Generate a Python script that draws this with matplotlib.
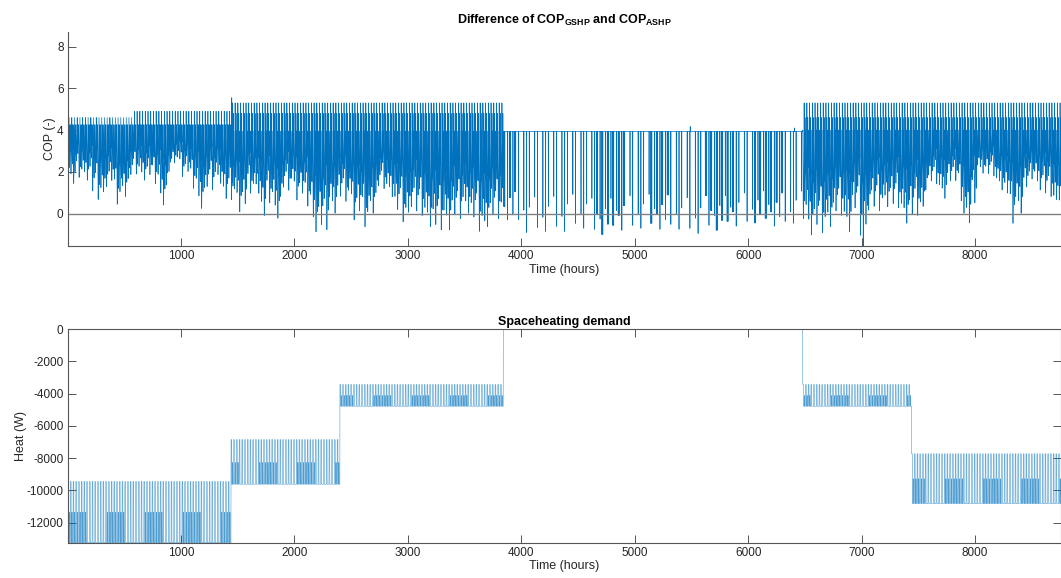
import numpy as np
import matplotlib
matplotlib.use("Agg")
import matplotlib.pyplot as plt

plt.rcParams['font.family'] = ['Liberation Sans', 'DejaVu Sans']
plt.rcParams['mathtext.fontset'] = 'custom'
plt.rcParams['mathtext.bf'] = 'Liberation Sans:bold'
plt.rcParams['mathtext.rm'] = 'Liberation Sans'
plt.rcParams['axes.unicode_minus'] = False

# ---- COP difference (top) ----
# regime boundaries (hours) and levels
cop_edges = [0, 570, 1440, 3840, 6480, 8760]
cop_core_top = [4.25, 4.25, 3.95, 3.93, 4.0]
cop_upper = [4.25, 4.25, 4.8, 3.93, 4.6]
cop_peak = [4.6, 4.9, 5.3, 3.93, 5.3]
summer_seg = 3

# deepest values of the trace, read along the lower edge
lo_hours = [0, 35, 108, 196, 240, 308, 373, 446, 519, 564, 608, 696, 769, 843, 916,
            975, 1048, 1122, 1195, 1268, 1327, 1401, 1474, 1547, 1621, 1680, 1730,
            1797, 1856, 1929, 1988, 2046, 2120, 2179, 2267, 2341, 2429, 2488, 2546,
            2620, 2693, 2767, 2840, 2914, 2987, 3046, 3104, 3178, 3266, 3340, 3428,
            3516, 3589, 3648, 3722, 3780,
            3840, 3960, 4100, 4300, 4500, 4700, 4900, 5100, 5300, 5500, 5700, 5900,
            6100, 6300,
            6490, 6578, 6652, 6725, 6799, 6872, 6946, 7013, 7078, 7152, 7225, 7313,
            7372, 7431, 7519, 7577, 7636, 7710, 7783, 7842, 7901, 7945, 7989, 8062,
            8136, 8209, 8283, 8336, 8385, 8459, 8518, 8576, 8650, 8709, 8753]
lo_vals = [1.7, 1.13, 1.6, 1.6, 0.73, 0.49, 1.29, 0.25, 0.82, 1.6, 1.77, 1.6, 1.29,
           0.41, 1.77, 2.33, 1.77, 1.05, 0.25, 0.97, 1.45, 0.33, 0.49, 0.09, 0.82,
           0.97, -0.54, 0.33, -0.22, 0.97, 1.13, 0.65, 0.17, -0.87, -1.02, 0.02,
           0.49, 0.41, -0.3, -0.87, 0.02, 1.05, 0.81, -0.22, -0.62, 0.33, -0.3,
           -0.62, -1.02, -0.78, -0.46, 0.02, -0.62, -1.1, -0.62, -0.46,
           -0.3, -0.5, -0.9, -0.85, -0.7, -1.0, -0.8, -0.7, -0.75, -0.95, -0.8,
           -0.6, -0.45, -0.6,
           -0.46, -1.02, -1.18, -0.62, -0.3, -0.87, -0.14, -1.3, 0.17, -0.06, 0.33,
           0.09, -0.38, -0.46, -0.3, 1.13, 1.29, 0.73, 1.29, 1.45, 0.02, -0.94,
           0.33, 1.93, 1.69, 1.13, 0.65, -0.7, 0.02, 0.97, 1.53, 1.13, 0.65, 0.09,
           0.65]

# hourly depth profile of one day (0 = top of band, 1 = day's low)
day_depth = [0, 0.3, 0.55, 0.7, 0.85, 1.0, 0.9, 0.75, 0.6, 0.45, 0.3, 0.15,
             0, 0.2, 0.4, 0.6, 0.7, 0.8, 0.65, 0.5, 0, 0.35, 0.5, 0.2]
week_depth = [1.0, 0.75, 0.9, 0.65, 0.95, 0.8, 0.85]
peak_hour, upper_hour = 12, 20
summer_busy = [(3840, 3960), (4630, 4900), (5100, 5300), (5600, 5880), (6040, 6290)]
summer_week_drop = [1, 1, 0, 1, 1, 0, 1]
cop_extra_hours = [0, 1446, 5488, 6408, 7013]
cop_extra_vals = [8.68, 5.55, 4.17, 4.1, -1.55]

# ---- space heating demand (bottom) ----
heat_edges = [0, 1440, 2400, 3840, 6480, 7440, 8760]
heat_base = [-13250, -9620, -4780, 0, -4780, -10820]
heat_top = [-9450, -6850, -3430, 0, -3430, -7730]
heat_mid = [-11360, -8270, -4110, 0, -4110, -9280]
day_sched = ['T'] * 7 + ['B'] * 6 + ['M'] * 3 + ['B'] * 8
fortnight_mid = [1, 1, 1, 1, 1, 1, 1, 0, 0, 0, 0, 0, 0, 0]

lo_h = np.array(lo_hours)
lo_v = np.array(lo_vals)

cop = np.empty(8760)
for d in range(365):
    h0 = d * 24
    s = np.searchsorted(cop_edges, h0, side='right') - 1
    low = lo_v[np.argmin(np.abs(lo_h - (h0 + 12)))]
    f = week_depth[d % 7]
    top = cop_core_top[s]
    if s == summer_seg:
        day = np.full(24, top)
        busy = any(a <= h0 < b for a, b in summer_busy)
        drops = ([5, 13] if d % 2 == 0 else [13]) if busy else \
            ([13] if summer_week_drop[d % 7] else [])
        for hh in drops:
            day[hh] = top - f * (top - low)
    else:
        day = top - np.array(day_depth) * f * (top - low)
        day[peak_hour] = cop_peak[s]
        day[upper_hour] = cop_upper[s]
    cop[h0:h0 + 24] = day
cop[cop_extra_hours] = cop_extra_vals

heat = np.empty(8760)
for d in range(365):
    h0 = d * 24
    s = np.searchsorted(heat_edges, h0, side='right') - 1
    mid_day = fortnight_mid[d % 14]
    for hh, code in enumerate(day_sched):
        if code == 'T':
            heat[h0 + hh] = heat_top[s]
        elif code == 'M' and mid_day:
            heat[h0 + hh] = heat_mid[s]
        else:
            heat[h0 + hh] = heat_base[s]

hours = np.arange(1, 8761)
blue = '#0072BD'
axcol = '#555555'
txtcol = '#262626'

fig = plt.figure(figsize=(10.61, 5.78), dpi=100)
ax1 = fig.add_axes([0.0638, 0.5744, 0.9365, 0.3697])
ax2 = fig.add_axes([0.0638, 0.0611, 0.9365, 0.3692])

ax1.plot(hours, cop, color=blue, lw=0.5)
ax1.axhline(0, color='#808080', lw=1.0)
ax1.set_xlim(1, 8760)
ax1.set_ylim(cop.min(), cop.max())
ax1.set_xticks([1000, 2000, 3000, 4000, 5000, 6000, 7000, 8000])
ax1.set_yticks([0, 2, 4, 6, 8])
ax1.spines['top'].set_visible(False)
ax1.spines['right'].set_visible(False)
ax1.set_title(r'Difference of COP$_{\mathbf{GSHP}}$ and COP$_{\mathbf{ASHP}}$',
              fontsize=9, fontweight='bold', pad=6)
ax1.set_xlabel('Time (hours)', fontsize=9, color=txtcol, labelpad=1)
ax1.set_ylabel('COP (-)', fontsize=9, color=txtcol, labelpad=1)

ax2.plot(hours, heat, color=blue, lw=0.4, alpha=0.7)
ax2.set_xlim(1, 8760)
ax2.set_ylim(-13250, 0)
ax2.set_xticks([1000, 2000, 3000, 4000, 5000, 6000, 7000, 8000])
ax2.set_yticks([-12000, -10000, -8000, -6000, -4000, -2000, 0])
ax2.tick_params(top=True, right=True)
ax2.set_title('Spaceheating demand', fontsize=9, fontweight='bold', pad=3)
ax2.set_xlabel('Time (hours)', fontsize=9, color=txtcol, labelpad=1)
ax2.set_ylabel('Heat (W)', fontsize=9, color=txtcol, labelpad=0)

for ax in (ax1, ax2):
    ax.tick_params(direction='in', length=6, width=0.7, colors=axcol,
                   labelcolor=txtcol, labelsize=8.5, pad=3)
    for sp in ax.spines.values():
        sp.set_color(axcol)
        sp.set_linewidth(0.8)

fig.savefig('out.png', dpi=100)
